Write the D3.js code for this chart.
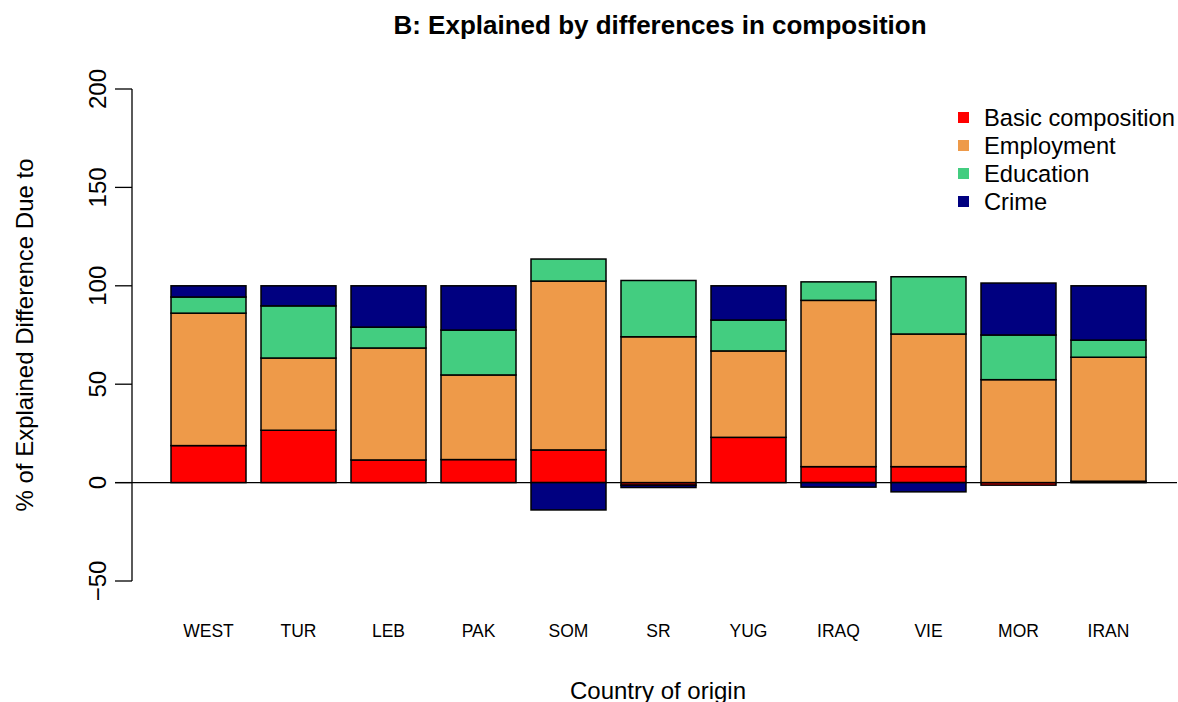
<!DOCTYPE html>
<html><head><meta charset="utf-8">
<script src="https://cdn.jsdelivr.net/npm/d3@7"></script>
<style>body{margin:0;background:#fff}svg{display:block}text{font-family:"Liberation Sans",Arial,Helvetica,sans-serif;fill:#000}</style>
</head><body>
<script>
const categories = ["WEST","TUR","LEB","PAK","SOM","SR","YUG","IRAQ","VIE","MOR","IRAN"];
const seriesNames = ["Basic composition","Employment","Education","Crime"];
const basic      = [18.8, 26.6, 11.5, 11.7, 16.6, -1.3, 23.0,  8.1,  8.1, -1.3,  0.7];
const employment = [67.3, 36.7, 56.9, 43.0, 85.8, 74.1, 43.9, 84.5, 67.4, 52.3, 63.0];
const education  = [ 8.2, 26.5, 10.6, 22.8, 11.2, 28.6, 15.7,  9.4, 29.1, 22.7,  8.7];
const crime      = [ 5.7, 10.2, 21.0, 22.5,-13.9, -1.2, 17.4, -2.3, -4.7, 26.4, 27.6];
const colors = ["#FF0000","#EE9A49","#43CD80","#000080"];
const yTicks = [-50,0,50,100,150,200];

const W=1178,H=702;
const svg=d3.select("body").append("svg").attr("width",W).attr("height",H);
const data=categories.map((c,i)=>({cat:c,"Basic composition":basic[i],"Employment":employment[i],"Education":education[i],"Crime":crime[i]}));
const stack=d3.stack().keys(seriesNames).offset(d3.stackOffsetDiverging)(data);

const y=d3.scaleLinear().domain([-50,200]).range([581,89]);
const x=d3.scaleBand().domain(categories).range([171,1146]).paddingInner(1/6).paddingOuter(0);

// zero line
svg.append("line").attr("x1",115).attr("x2",1177).attr("y1",y(0)).attr("y2",y(0)).attr("stroke","#000").attr("stroke-width",1.3);

stack.forEach((s,k)=>{
  svg.append("g").selectAll("rect").data(s).join("rect")
    .attr("x",d=>x(d.data.cat)).attr("width",x.bandwidth())
    .attr("y",d=>y(Math.max(d[0],d[1]))).attr("height",d=>Math.abs(y(d[0])-y(d[1])))
    .attr("fill",colors[k]).attr("stroke","#000").attr("stroke-width",1.5);
});

// y axis
const ax=svg.append("g").attr("transform","translate(132,0)")
  .call(d3.axisLeft(y).tickValues(yTicks).tickSize(17).tickPadding(0).tickFormat(d=>d<0?"\u2212"+Math.abs(d):d));
ax.select(".domain").attr("stroke","#000").attr("stroke-width",1.3).attr("d","M0,"+y(-50)+"V"+y(200));
ax.selectAll(".tick").attr("transform","translate(0,0)");
ax.selectAll(".tick line").attr("stroke","#000").attr("stroke-width",1.3).attr("y1",d=>y(d)).attr("y2",d=>y(d)).attr("x2",-17);
ax.selectAll(".tick text").attr("transform",d=>"translate(-34,"+y(d)+") rotate(-90)").attr("x",0).attr("y",0)
  .attr("dy","0.35em").attr("text-anchor","middle").style("font-size","24px").style("font-family","Liberation Sans, Arial");

// x labels
svg.append("g").selectAll("text").data(categories).join("text")
  .attr("x",d=>x(d)+x.bandwidth()/2).attr("y",637).attr("text-anchor","middle")
  .style("font-size","17.5px").text(d=>d);

// titles
svg.append("text").attr("x",660).attr("y",34).attr("text-anchor","middle").style("font-size","26px").style("font-weight","bold")
  .text("B: Explained by differences in composition");
svg.append("text").attr("x",658).attr("y",699).attr("text-anchor","middle").style("font-size","24px").text("Country of origin");
svg.append("text").attr("transform","translate(33,335) rotate(-90)").attr("text-anchor","middle").style("font-size","24px")
  .text("% of Explained Difference Due to");

// legend
const lg=svg.append("g").selectAll("g").data(seriesNames).join("g").attr("transform",(d,i)=>"translate(958,"+(117.5+28*i)+")");
lg.append("rect").attr("x",0).attr("y",-5.5).attr("width",11).attr("height",11).attr("fill",(d,i)=>colors[i]);
lg.append("text").attr("x",26).attr("y",0).attr("dy","0.35em").style("font-size","23.7px").text(d=>d);
</script>
</body></html>
